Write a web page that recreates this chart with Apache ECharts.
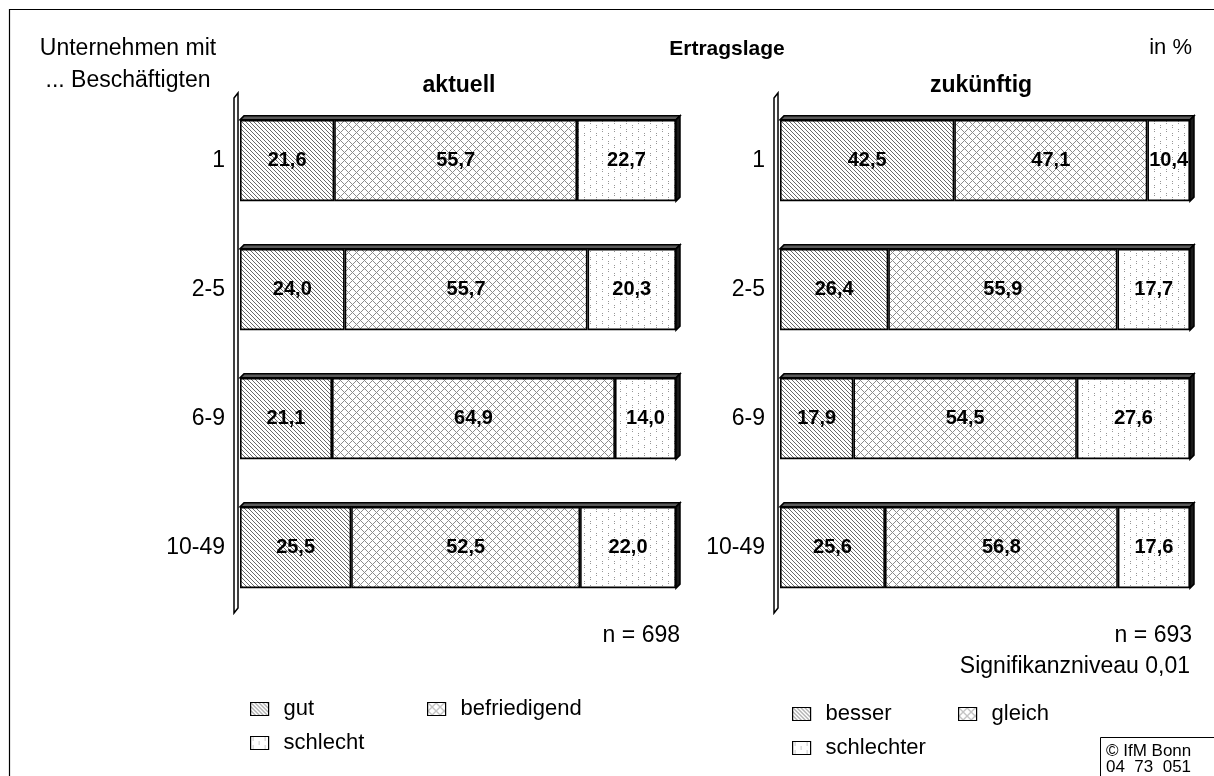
<!DOCTYPE html>
<html>
<head>
<meta charset="utf-8">
<script src="https://cdn.jsdelivr.net/npm/echarts@6/dist/echarts.min.js"></script>
<style>
html,body{margin:0;padding:0;background:#fff;}
#c{width:1214px;height:776px;}
</style>
</head>
<body>
<div id="c"></div>
<script>
// ---- data ----
const categories = ['1', '2-5', '6-9', '10-49'];
const aktuellGut = [21.6, 24.0, 21.1, 25.5];
const aktuellBefriedigend = [55.7, 55.7, 64.9, 52.5];
const aktuellSchlecht = [22.7, 20.3, 14.0, 22.0];
const zukBesser = [42.5, 26.4, 17.9, 25.6];
const zukGleich = [47.1, 55.9, 54.5, 56.8];
const zukSchlechter = [10.4, 17.7, 27.6, 17.6];

// ---- patterns ----
function makeTile(w, h, fn) {
  const c = document.createElement('canvas');
  c.width = w; c.height = h;
  const ctx = c.getContext('2d');
  const img = ctx.createImageData(w, h);
  for (let y = 0; y < h; y++) for (let x = 0; x < w; x++) {
    const g = fn(x, y);
    const i = (y * w + x) * 4;
    img.data[i] = g; img.data[i+1] = g; img.data[i+2] = g; img.data[i+3] = 255;
  }
  ctx.putImageData(img, 0, 0);
  return c;
}
const hatchTile = makeTile(4, 4, (x, y) => (((x - y) % 4 + 4) % 4 === 0) ? 105 : 255);
const diamondTile = makeTile(8, 8, (x, y) => ((x + y) % 8 === 0 || (((x - y) % 8) + 8) % 8 === 0) ? 140 : 255);
const dotTile = makeTile(12, 8, (x, y) => {
  if (x === 2 && (y === 1 || y === 3)) return 150;
  if (x === 8 && (y === 5 || y === 7)) return 150;
  return 255;
});
const pHatch = {image: hatchTile, repeat: 'repeat'};
const pDiamond = {image: diamondTile, repeat: 'repeat'};
const pDots = {image: dotTile, repeat: 'repeat'};

const FONT = '"Liberation Sans", Arial, sans-serif';
const G0 = {left: 240, top: 96, width: 436, height: 516};
const G1 = {left: 780, top: 96, width: 410, height: 516};
const GAP = 0.37;
const DEPTH = 4;

function fmt(p) { return p.value.toFixed(1).replace('.', ','); }

function barSeries(name, data, fill, idx) {
  return {
    name: name, type: 'bar', stack: 's' + idx, data: data,
    xAxisIndex: idx, yAxisIndex: idx,
    barCategoryGap: (GAP * 100) + '%',
    itemStyle: {color: fill, borderColor: '#000', borderWidth: 1.6},
    label: {
      show: true, position: 'inside', formatter: fmt,
      fontFamily: FONT, fontWeight: 'bold', fontSize: 20, color: '#000'
    },
    emphasis: {disabled: true},
    animation: false, z: 2
  };
}

// 3D top face and right side of each whole stacked bar
function depthSeries(arrs, idx) {
  const data = categories.map((c, i) => [arrs.reduce((s, a) => s + a[i], 0), i]);
  return {
    type: 'custom', xAxisIndex: idx, yAxisIndex: idx, data: data, z: 3,
    silent: true, animation: false,
    renderItem: function (params, api) {
      const p0 = api.coord([0, api.value(1)]);
      const p1 = api.coord([api.value(0), api.value(1)]);
      const band = api.size([0, 1])[1];
      const h = band * (1 - GAP);
      const yT = p0[1] - h / 2, yB = p0[1] + h / 2;
      const x0 = p0[0], x1 = p1[0], d = DEPTH;
      return {
        type: 'group',
        children: [
          {type: 'polygon', shape: {points: [[x0, yT], [x0 + d, yT - d], [x1 + d, yT - d], [x1, yT]]},
            style: {fill: '#5a5a5a', stroke: '#000', lineWidth: 1.5}},
          {type: 'polygon', shape: {points: [[x1, yT], [x1 + d, yT - d], [x1 + d, yB - d], [x1, yB]]},
            style: {fill: '#1a1a1a', stroke: '#000', lineWidth: 1.5}}
        ]
      };
    }
  };
}

function legendAt(name, left, top) {
  return {
    data: [name], left: left, top: top, orient: 'horizontal',
    icon: 'rect', itemWidth: 18, itemHeight: 13, itemGap: 0,
    textStyle: {fontFamily: FONT, fontSize: 22, color: '#000', padding: [0, 0, 0, 10]},
    itemStyle: {borderColor: '#000', borderWidth: 1.2},
    selectedMode: false, padding: 0
  };
}

function wall(g) {
  const x = g.left;
  return {
    type: 'polygon', z: 10,
    shape: {points: [[x - 6, g.top + 2], [x - 2, g.top - 3], [x - 2, g.top + g.height - 4], [x - 6, g.top + g.height + 1]]},
    style: {fill: '#fff', stroke: '#000', lineWidth: 1.5}
  };
}

function txt(x, y, text, size, bold, align) {
  return {
    type: 'text', x: x, y: y, z: 20,
    style: {text: text, fontFamily: FONT, fontSize: size, fontWeight: bold ? 'bold' : 'normal',
      fill: '#000', textAlign: align || 'left', textVerticalAlign: 'middle'}
  };
}

const chart = echarts.init(document.getElementById('c'), null, {renderer: 'canvas'});
const option = {
  backgroundColor: '#fff',
  animation: false,
  grid: [
    Object.assign({containLabel: false}, G0),
    Object.assign({containLabel: false}, G1)
  ],
  xAxis: [
    {gridIndex: 0, type: 'value', min: 0, max: 100, show: false},
    {gridIndex: 1, type: 'value', min: 0, max: 100, show: false}
  ],
  yAxis: [
    {gridIndex: 0, type: 'category', data: categories, inverse: true,
      axisLine: {show: false}, axisTick: {show: false},
      axisLabel: {fontFamily: FONT, fontSize: 23, color: '#000', margin: 15}},
    {gridIndex: 1, type: 'category', data: categories, inverse: true,
      axisLine: {show: false}, axisTick: {show: false},
      axisLabel: {fontFamily: FONT, fontSize: 23, color: '#000', margin: 15}}
  ],
  legend: [
    legendAt('gut', 250, 698),
    legendAt('befriedigend', 427, 698),
    legendAt('schlecht', 250, 732),
    legendAt('besser', 792, 703),
    legendAt('gleich', 958, 703),
    legendAt('schlechter', 792, 737)
  ],
  series: [
    barSeries('gut', aktuellGut, pHatch, 0),
    barSeries('befriedigend', aktuellBefriedigend, pDiamond, 0),
    barSeries('schlecht', aktuellSchlecht, pDots, 0),
    depthSeries([aktuellGut, aktuellBefriedigend, aktuellSchlecht], 0),
    barSeries('besser', zukBesser, pHatch, 1),
    barSeries('gleich', zukGleich, pDiamond, 1),
    barSeries('schlechter', zukSchlechter, pDots, 1),
    depthSeries([zukBesser, zukGleich, zukSchlechter], 1)
  ],
  graphic: [
    {type: 'rect', shape: {x: 9.5, y: 9.5, width: 1300, height: 900}, style: {fill: 'none', stroke: '#000', lineWidth: 1.2}, z: 1},
    wall(G0), wall(G1),
    txt(727, 49, 'Ertragslage', 21, true, 'center'),
    txt(1192, 48, 'in %', 22, false, 'right'),
    txt(128, 49, 'Unternehmen mit', 23, false, 'center'),
    txt(128, 81, '... Beschäftigten', 23, false, 'center'),
    txt(459, 86, 'aktuell', 23, true, 'center'),
    txt(981, 86, 'zukünftig', 23, true, 'center'),
    txt(680, 636, 'n = 698', 23, false, 'right'),
    txt(1192, 636, 'n = 693', 23, false, 'right'),
    txt(1190, 667, 'Signifikanzniveau 0,01', 23, false, 'right'),
    {type: 'rect', shape: {x: 1100.5, y: 737.5, width: 200, height: 100}, style: {fill: '#fff', stroke: '#000', lineWidth: 1}, z: 15},
    txt(1106, 751, '© IfM Bonn', 17, false, 'left'),
    txt(1106, 767, '04  73  051', 17, false, 'left')
  ]
};
chart.setOption(option);
</script>
</body>
</html>
